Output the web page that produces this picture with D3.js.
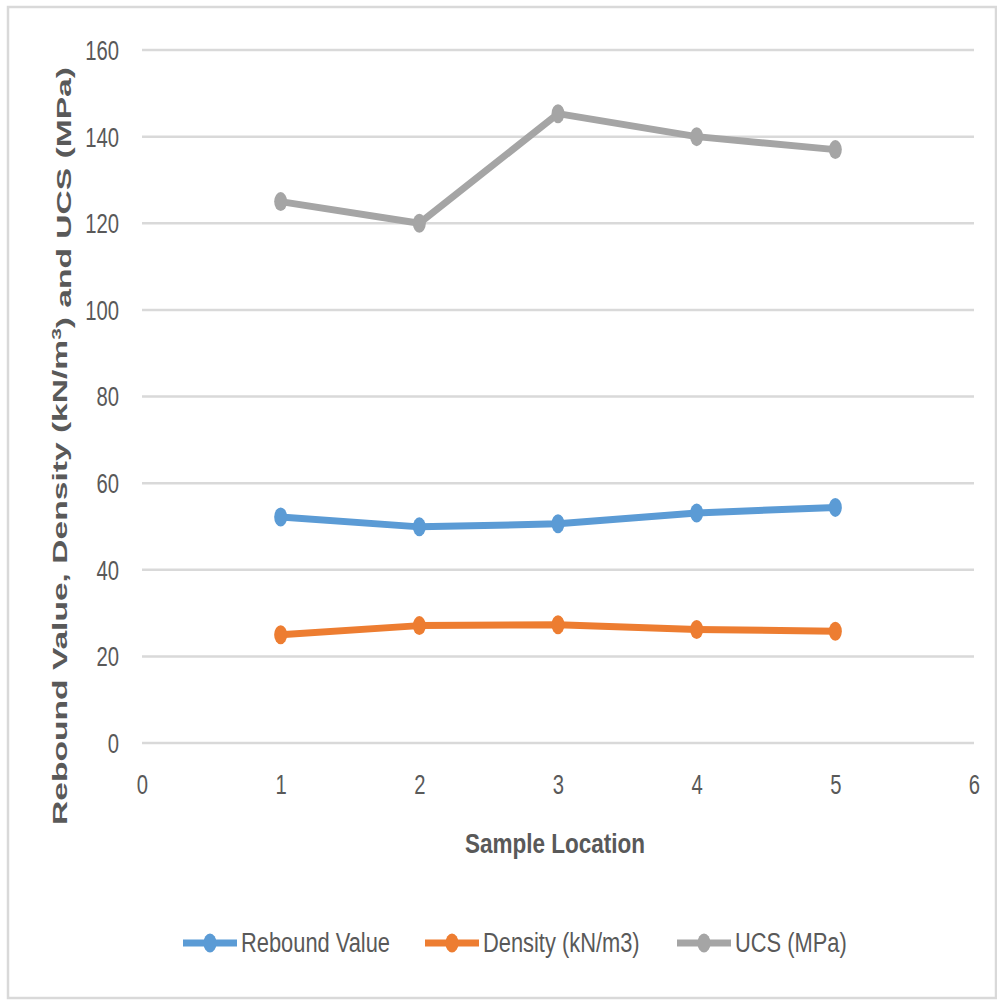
<!DOCTYPE html>
<html>
<head>
<meta charset="utf-8">
<script src="https://cdn.jsdelivr.net/npm/d3@7"></script>
<style>
  body { margin: 0; background: #fff; }
  text { font-family: "Liberation Sans", sans-serif; }
</style>
</head>
<body>
<div class="chart"></div>
<script>
var width = 997, height = 1001;

// data
var locations = [1, 2, 3, 4, 5];
var reboundValue = [52.2, 49.9, 50.6, 53.1, 54.4];
var density = [25.0, 27.1, 27.3, 26.2, 25.8];
var ucs = [125, 120, 145.3, 140, 137];
var seriesNames = ["Rebound Value", "Density (kN/m3)", "UCS (MPa)"];
var colourPalette = ["#5B9BD5", "#ED7D31", "#A5A5A5"];
var xTicks = [0, 1, 2, 3, 4, 5, 6];
var yTicks = [0, 20, 40, 60, 80, 100, 120, 140, 160];

var allSeries = [reboundValue, density, ucs];
var squeeze = 'scale(0.75,1)'; // text in the picture is narrow

var svg = d3.select('.chart')
    .append('svg')
    .attr('width', width)
    .attr('height', height);

// outer frame
svg.append('rect')
    .attr('x', 8).attr('y', 7)
    .attr('width', 988).attr('height', 991)
    .attr('fill', 'none')
    .attr('stroke', '#d9d9d9')
    .attr('stroke-width', 2.5);

var x = d3.scaleLinear().domain([0, 6]).range([142, 974]);
var y = d3.scaleLinear().domain([0, 160]).range([743, 50]);

// gridlines
svg.append('g')
    .selectAll('line')
    .data(yTicks)
    .enter()
    .append('line')
    .attr('x1', x(0)).attr('x2', x(6))
    .attr('y1', d => y(d)).attr('y2', d => y(d))
    .attr('stroke', '#d9d9d9')
    .attr('stroke-width', 2.5);

// y axis labels
var yAxis = svg.append('g')
    .attr('transform', 'translate(' + (x(0) - 23) + ',0)')
    .call(d3.axisLeft(y).tickValues(yTicks).tickSize(0).tickPadding(0));
yAxis.select('.domain').remove();
yAxis.selectAll('text')
    .attr('fill', '#595959')
    .attr('transform', squeeze)
    .style('font-size', '27px')
    .attr('dy', '0.35em');

// x axis labels
var xAxis = svg.append('g')
    .attr('transform', 'translate(0,' + (y(0) + 32) + ')')
    .call(d3.axisBottom(x).tickValues(xTicks).tickFormat(d3.format('d')).tickSize(0).tickPadding(0));
xAxis.select('.domain').remove();
xAxis.selectAll('text')
    .attr('fill', '#595959')
    .attr('transform', squeeze)
    .style('font-size', '27px')
    .attr('dy', '0.71em');

// axis titles
svg.append('text')
    .attr('x', 555).attr('y', 853)
    .attr('text-anchor', 'middle')
    .attr('fill', '#595959')
    .attr('textLength', 180)
    .attr('lengthAdjust', 'spacingAndGlyphs')
    .style('font-size', '28px')
    .style('font-weight', 'bold')
    .text('Sample Location');

var yTitle = svg.append('text')
    .attr('transform', 'translate(67,446) rotate(-90) scale(1.6,1)')
    .attr('text-anchor', 'middle')
    .attr('fill', '#595959')
    .style('font-size', '21px')
    .style('font-weight', 'bold');
yTitle.append('tspan').text('Rebound Value, Density (kN/m');
yTitle.append('tspan').attr('dy', '-0.45em').style('font-size', '13px').text('3');
yTitle.append('tspan').attr('dy', '0.45em').text(') and UCS (MPa)');

// series
var line = d3.line()
    .x((d, i) => x(locations[i]))
    .y(d => y(d));

allSeries.forEach(function (values, s) {
    var g = svg.append('g');
    g.append('path')
        .attr('d', line(values))
        .attr('fill', 'none')
        .attr('stroke', colourPalette[s])
        .attr('stroke-width', 7)
        .attr('stroke-linejoin', 'round');
    g.selectAll('ellipse')
        .data(values)
        .enter()
        .append('ellipse')
        .attr('cx', (d, i) => x(locations[i]))
        .attr('cy', d => y(d))
        .attr('rx', 6.5)
        .attr('ry', 9.5)
        .attr('fill', colourPalette[s]);
});

// legend
var legendX = [183, 425, 677];
var legend = svg.append('g')
    .selectAll('g')
    .data(seriesNames)
    .enter()
    .append('g')
    .attr('transform', (d, i) => 'translate(' + legendX[i] + ',943)');

legend.append('line')
    .attr('x1', 0).attr('x2', 54)
    .attr('stroke', (d, i) => colourPalette[i])
    .attr('stroke-width', 7);
legend.append('ellipse')
    .attr('cx', 27).attr('rx', 6.5).attr('ry', 9.5)
    .attr('fill', (d, i) => colourPalette[i]);
legend.append('text')
    .attr('transform', 'translate(58,0) scale(0.81,1)')
    .attr('dy', '0.35em')
    .attr('fill', '#595959')
    .style('font-size', '27px')
    .text(d => d);
</script>
</body>
</html>
